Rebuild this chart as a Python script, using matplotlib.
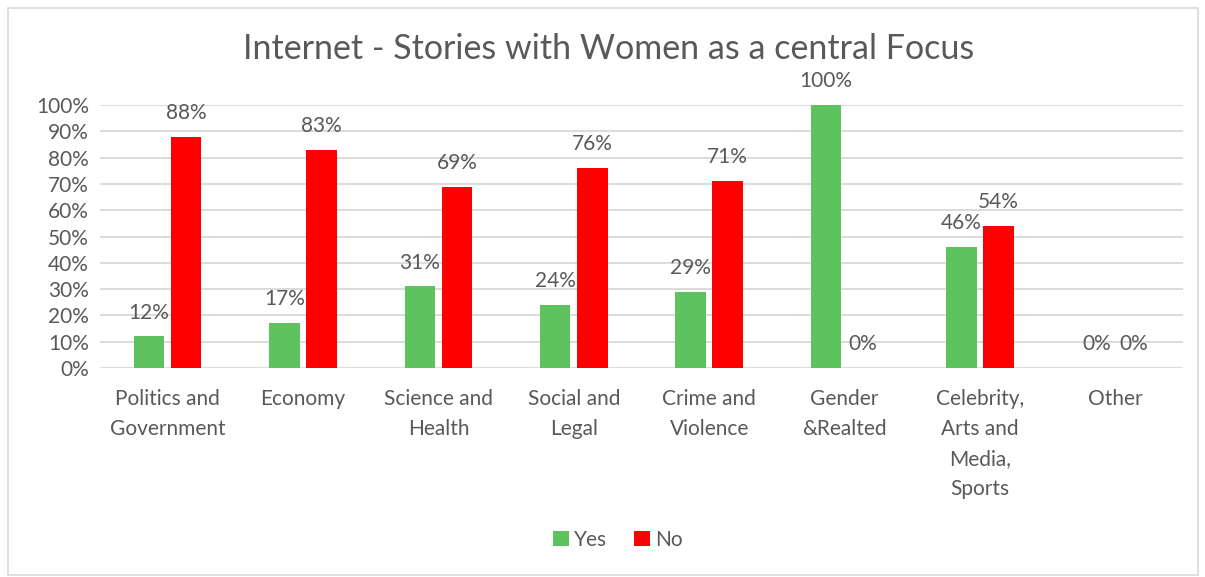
import numpy as np
import matplotlib.pyplot as plt
from matplotlib.patches import Rectangle

plt.rcParams['font.family'] = ['Lato', 'DejaVu Sans']

categories = ['Politics and\nGovernment', 'Economy', 'Science and\nHealth',
              'Social and\nLegal', 'Crime and\nViolence', 'Gender\n&Realted',
              'Celebrity,\nArts and\nMedia,\nSports', 'Other']
yes_vals = [12, 17, 31, 24, 29, 100, 46, 0]
no_vals = [88, 83, 69, 76, 71, 0, 54, 0]
yticks = [0, 10, 20, 30, 40, 50, 60, 70, 80, 90, 100]

text_col = '#595959'
green = '#5ec35e'
red = '#ff0000'

fig = plt.figure(figsize=(12.05, 5.77), dpi=100)
ax = fig.add_axes([0.083, 0.3622, 0.8987, 0.4558])

# outer chart frame
fig.patches.append(Rectangle((0.007, 0.004), 0.987, 0.983, transform=fig.transFigure,
                             fill=False, edgecolor='#d9d9d9', linewidth=1.2))

x = np.arange(len(categories))
w = 0.225
off = 0.137
b1 = ax.bar(x - off, yes_vals, w, color=green, label='Yes', zorder=3)
b2 = ax.bar(x + off, no_vals, w, color=red, label='No', zorder=3)

for bars, vals in [(b1, yes_vals), (b2, no_vals)]:
    for b, v in zip(bars, vals):
        ax.annotate(f'{v}%', (b.get_x() + b.get_width() / 2, v),
                    xytext=(0, 10), textcoords='offset points',
                    ha='center', va='bottom', fontsize=15, color=text_col)

ax.set_xlim(-0.5, len(categories) - 0.5)
ax.set_ylim(0, 100)
ax.set_yticks(yticks)
ax.set_yticklabels([f'{t}%' for t in yticks])
ax.set_xticks(x)
ax.set_xticklabels(categories, linespacing=1.62, va='top')
ax.tick_params(axis='both', length=0, labelsize=15, labelcolor=text_col)
ax.tick_params(axis='x', pad=15)
ax.tick_params(axis='y', pad=8)
ax.grid(axis='y', color='#d9d9d9', linewidth=1.3, zorder=0)
for s in ax.spines.values():
    s.set_visible(False)

fig.text(0.505, 0.915, 'Internet - Stories with Women as a central Focus',
         ha='center', va='center', fontsize=24.5, color=text_col)

fig.legend(loc='center', bbox_to_anchor=(0.513, 0.064), ncol=2, frameon=False,
           fontsize=15, handlelength=0.75, handleheight=0.75, handletextpad=0.25,
           columnspacing=1.3, labelcolor=text_col)

fig.savefig('out.png', dpi=100)
